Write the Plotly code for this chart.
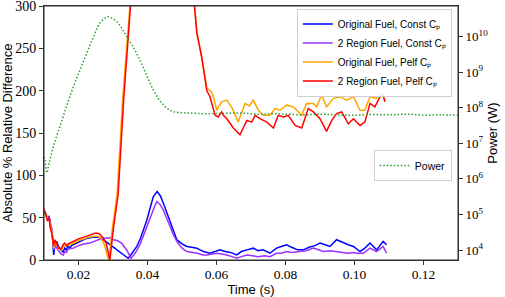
import plotly.graph_objects as go

# ---- data ----
t_orig_const = [0.0100,0.0105,0.0110,0.0115,0.0118,0.0122,0.0125,0.0128,0.0132,0.0137,0.0142,0.0150,0.0155,0.0160,0.0165,0.0170,0.0175,0.0180,0.0190,0.0200,0.0210,0.0220,0.0230,0.0240,0.0257,0.0265,0.0272,0.0282,0.0291,0.0300,0.0310,0.0320,0.0330,0.0338,0.0344,0.0350,0.0360,0.0369,0.0380,0.0390,0.0398,0.0408,0.0417,0.0428,0.0437,0.0446,0.0455,0.0465,0.0475,0.0485,0.0500,0.0514,0.0528,0.0543,0.0552,0.0562,0.0581,0.0595,0.0610,0.0625,0.0640,0.0659,0.0672,0.0688,0.0707,0.0720,0.0735,0.0755,0.0774,0.0788,0.0803,0.0818,0.0835,0.0852,0.0868,0.0885,0.0900,0.0915,0.0929,0.0948,0.0968,0.0982,0.0997,0.1016,0.1030,0.1045,0.1064,0.1083,0.1093]
v_orig_const = [58,55,50,52,42,38,25,6,18,22,16,12,9,14,12,17,14,17,19,21,23,25,26,27,27,26,24,21,18,15,12,9,6,4,2,5,11,16,26,37,47,62,75,81,76,67,57,44,33,24,19,16,15,14,12,10,8,10,12,10,9,6,10,12,14,11,12,8,14,16,18,15,12,12,15,17,20,18,16,24,20,18,16,10,14,20,12,22,18]

t_2reg_const = [0.0100,0.0105,0.0110,0.0115,0.0118,0.0122,0.0125,0.0128,0.0132,0.0140,0.0150,0.0156,0.0160,0.0165,0.0170,0.0185,0.0200,0.0215,0.0233,0.0250,0.0265,0.0280,0.0292,0.0301,0.0312,0.0325,0.0335,0.0341,0.0347,0.0352,0.0360,0.0369,0.0380,0.0390,0.0398,0.0410,0.0420,0.0427,0.0436,0.0446,0.0455,0.0465,0.0475,0.0485,0.0500,0.0514,0.0530,0.0545,0.0560,0.0572,0.0587,0.0601,0.0615,0.0630,0.0645,0.0659,0.0672,0.0688,0.0705,0.0720,0.0740,0.0755,0.0774,0.0788,0.0803,0.0820,0.0840,0.0860,0.0881,0.0895,0.0910,0.0930,0.0948,0.0965,0.0980,0.0996,0.1010,0.1025,0.1045,0.1064,0.1083,0.1093]
v_2reg_const = [57,54,50,51,42,36,28,12,18,12,7,6,10,9,13,14,17,19,20,23,25,26,26,24,23,20,15,11,6,2,6,11,20,30,39,52,63,69,66,59,50,39,30,22,14,10,9,8,6,6,7,8,7,6,4,2,4,6,5,4,5,4,8,8,10,9,10,11,14,12,10,11,10,9,8,9,8,8,14,10,16,8]

t_orig_pelf = [0.0100,0.0105,0.0110,0.0115,0.0118,0.0122,0.0126,0.0128,0.0132,0.0137,0.0142,0.0150,0.0157,0.0163,0.0170,0.0180,0.0190,0.0200,0.0215,0.0230,0.0245,0.0255,0.0265,0.0275,0.0283,0.0288,0.0298,0.0312,0.0328,0.0345,0.0370,0.0400,0.0440,0.0480,0.0510,0.0530,0.0543,0.0557,0.0562,0.0572,0.0586,0.0591,0.0601,0.0615,0.0630,0.0645,0.0663,0.0683,0.0695,0.0707,0.0721,0.0736,0.0755,0.0770,0.0784,0.0803,0.0823,0.0835,0.0847,0.0861,0.0881,0.0890,0.0905,0.0919,0.0939,0.0958,0.0977,0.0997,0.1016,0.1030,0.1045,0.1064,0.1074,0.1083,0.1088]
v_orig_pelf = [60,54,50,48,40,36,20,14,20,18,13,12,17,16,18,19,21,23,25,27,28,28,26,18,6,0,37,78,190,300,480,700,780,620,420,330,270,240,228,203,199,193,177,187,189,180,163,185,182,189,177,171,171,179,177,183,181,176,171,185,185,181,195,181,191,193,189,193,177,177,193,191,197,193,189]

t_2reg_pelf = [0.0100,0.0105,0.0110,0.0115,0.0118,0.0122,0.0126,0.0128,0.0132,0.0137,0.0142,0.0150,0.0155,0.0160,0.0165,0.0170,0.0185,0.0200,0.0215,0.0235,0.0250,0.0260,0.0270,0.0280,0.0287,0.0291,0.0301,0.0315,0.0331,0.0347,0.0370,0.0400,0.0440,0.0480,0.0510,0.0530,0.0543,0.0557,0.0567,0.0572,0.0581,0.0586,0.0596,0.0605,0.0615,0.0620,0.0630,0.0649,0.0668,0.0688,0.0702,0.0712,0.0726,0.0746,0.0765,0.0779,0.0794,0.0808,0.0828,0.0847,0.0866,0.0881,0.0900,0.0919,0.0934,0.0948,0.0963,0.0982,0.0997,0.1016,0.1030,0.1045,0.1059,0.1074,0.1083,0.1088]
v_2reg_pelf = [61,53,46,50,38,32,22,17,24,19,14,13,18,20,17,19,22,25,27,30,32,31,27,20,8,0,37,78,190,300,490,720,800,640,430,330,268,240,213,200,193,185,171,169,175,171,167,156,148,165,163,171,167,163,156,171,169,171,159,156,179,175,167,152,165,173,175,161,167,159,163,185,181,193,195,187]

t_power = [0.0100,0.0103,0.0108,0.0115,0.0127,0.0146,0.0165,0.0185,0.0205,0.0224,0.0243,0.0262,0.0275,0.0286,0.0300,0.0311,0.0325,0.0340,0.0360,0.0378,0.0398,0.0417,0.0432,0.0446,0.0460,0.0475,0.0500,0.0523,0.0572,0.0620,0.0668,0.0720,0.0780,0.0850,0.0900,0.0950,0.1000,0.1050,0.1100,0.1150,0.1200,0.1250,0.1300]
log10_power = [6.62,6.53,6.17,6.45,6.91,7.47,8.03,8.59,9.08,9.53,9.98,10.38,10.50,10.56,10.50,10.42,10.24,10.00,9.68,9.34,8.90,8.50,8.25,8.08,7.96,7.89,7.86,7.85,7.83,7.84,7.85,7.82,7.83,7.80,7.82,7.80,7.79,7.81,7.80,7.82,7.79,7.80,7.79]
power = [10 ** v for v in log10_power]

x_ticks = [0.02, 0.04, 0.06, 0.08, 0.10, 0.12]
x_ticklabels = ["0.02", "0.04", "0.06", "0.08", "0.10", "0.12"]
y_ticks = [0, 50, 100, 150, 200, 250, 300]
p_exponents = [4, 5, 6, 7, 8, 9, 10]

SERIF = "Liberation Serif, DejaVu Serif, serif"
SANS = "Liberation Sans, Arial, sans-serif"
AXC = "#333333"
CP = "C\u209a"

fig = go.Figure()
fig.add_trace(go.Scatter(x=t_orig_const, y=v_orig_const, mode="lines",
                         line=dict(color="#0000ff", width=1.5),
                         name="Original Fuel, Const " + CP, legend="legend"))
fig.add_trace(go.Scatter(x=t_2reg_const, y=v_2reg_const, mode="lines",
                         line=dict(color="#9b30ff", width=1.5),
                         name="2 Region Fuel, Const " + CP, legend="legend"))
fig.add_trace(go.Scatter(x=t_orig_pelf, y=v_orig_pelf, mode="lines",
                         line=dict(color="#ffa500", width=1.5),
                         name="Original Fuel, Pelf " + CP, legend="legend"))
fig.add_trace(go.Scatter(x=t_2reg_pelf, y=v_2reg_pelf, mode="lines",
                         line=dict(color="#ff0000", width=1.5),
                         name="2 Region Fuel, Pelf " + CP, legend="legend"))
fig.add_trace(go.Scatter(x=t_power, y=power, mode="lines", yaxis="y2",
                         line=dict(color="#2ca02c", width=1.5, dash="1.5px,2px", shape="spline"),
                         name="Power", legend="legend2"))

fig.update_layout(
    width=505, height=297,
    margin=dict(l=44, r=47, t=6, b=37, autoexpand=False),
    plot_bgcolor="white", paper_bgcolor="white",
    font=dict(family=SANS, size=12, color="black"),
    xaxis=dict(range=[0.01, 0.13], tickvals=x_ticks, ticktext=x_ticklabels, automargin=False,
               ticks="outside", ticklen=4, tickcolor=AXC, showline=True, linecolor=AXC,
               linewidth=1, mirror=True, showgrid=False, zeroline=False, ticklabelstandoff=-2,
               tickfont=dict(family=SERIF, size=13.5),
               title=dict(text="Time (s)", font=dict(family=SANS, size=13), standoff=0)),
    yaxis=dict(range=[0, 300.2], tickvals=y_ticks, ticks="outside", ticklen=4, tickcolor=AXC,
               automargin=False, showline=True, linecolor=AXC, linewidth=1, showgrid=False,
               zeroline=False, tickfont=dict(family=SERIF, size=14), ticklabeloverflow="allow",
               title=dict(text="Absolute % Relative Difference", font=dict(family=SANS, size=13), standoff=2)),
    yaxis2=dict(type="log", overlaying="y", side="right", range=[3.72, 10.86], automargin=False,
                tickvals=[10 ** e for e in p_exponents],
                ticktext=["10<sup>%d</sup>" % e for e in p_exponents],
                ticks="outside", ticklen=4, tickcolor=AXC, showline=True, linecolor=AXC,
                linewidth=1, showgrid=False, zeroline=False,
                tickfont=dict(family=SERIF, size=13),
                title=dict(text="Power (W)", font=dict(family=SANS, size=13), standoff=0)),
    legend=dict(x=0.985, y=0.99, xanchor="right", yanchor="top", itemwidth=30,
                bgcolor="rgba(255,255,255,0.85)", bordercolor="#d0d0d0", borderwidth=1,
                font=dict(family=SANS, size=10), tracegroupgap=0),
    legend2=dict(x=0.985, y=0.433, xanchor="right", yanchor="top", itemwidth=30,
                 bgcolor="rgba(255,255,255,0.85)", bordercolor="#d0d0d0", borderwidth=1,
                 font=dict(family=SANS, size=10.5)),
    showlegend=True,
    shapes=[dict(type="rect", xref="paper", yref="paper", x0=0, x1=1, y0=0, y1=1,
                 line=dict(color=AXC, width=1), fillcolor="rgba(0,0,0,0)", layer="above")],
)

fig.write_html("out.html", config={"displayModeBar": False},
               post_script="document.body.style.margin='0';document.body.style.overflow='hidden';")
